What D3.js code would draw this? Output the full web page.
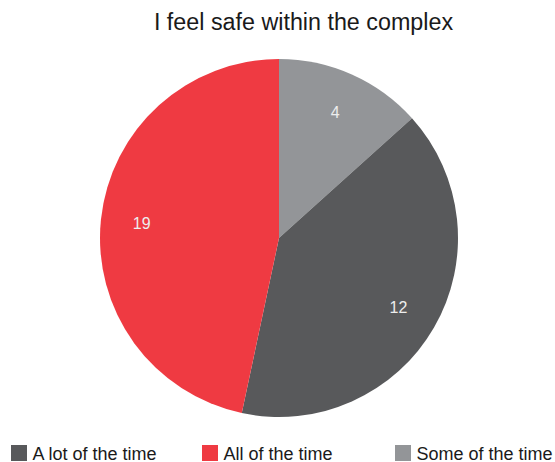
<!DOCTYPE html>
<head>
  <meta charset="utf-8">
  <script src="https://d3js.org/d3.v7.min.js"></script>
  <style>
    body { margin: 0; background: #fff; }
    text { font-family: "Liberation Sans", Arial, sans-serif; }
  </style>
</head>
<body>
  <script>
  // legend order
  var categories = ["A lot of the time", "All of the time", "Some of the time"];
  // slice sizes as drawn in the picture (angles 144 / 168 / 48 deg)
  var sliceValues = [12, 14, 4];
  // numbers printed on the slices
  var labelValues = [12, 19, 4];
  var colors = ["#58595b", "#ef3a42", "#939598"];
  // clockwise drawing order from 12 o'clock
  var drawOrder = [2, 0, 1];

  var width = 555, height = 462;
  var cx = 279, cy = 238, radius = 179;

  var svg = d3.select("body").append("svg")
      .attr("width", width)
      .attr("height", height);

  svg.append("text")
      .attr("x", 303.5)
      .attr("y", 30)
      .attr("text-anchor", "middle")
      .attr("fill", "#1a1a1a")
      .style("font-size", "23.3px")
      .text("I feel safe within the complex");

  var data = drawOrder.map(function(i) {
    return {name: categories[i], value: sliceValues[i], label: labelValues[i], color: colors[i]};
  });

  var pie = d3.pie()
      .sort(null)
      .value(function(d) { return d.value; });

  var arc = d3.arc()
      .innerRadius(0)
      .outerRadius(radius);

  var labelArc = d3.arc()
      .innerRadius(138)
      .outerRadius(138);

  var g = svg.append("g")
      .attr("transform", "translate(" + cx + "," + cy + ")");

  var slices = g.selectAll("g.slice")
      .data(pie(data))
      .enter().append("g")
      .attr("class", "slice");

  slices.append("path")
      .attr("d", arc)
      .attr("fill", function(d) { return d.data.color; });

  slices.append("text")
      .attr("transform", function(d) { return "translate(" + labelArc.centroid(d) + ")"; })
      .attr("text-anchor", "middle")
      .attr("dy", "0.35em")
      .attr("fill", "#ededed")
      .style("font-size", "16px")
      .text(function(d) { return d.data.label; });

  // legend
  var legendX = d3.scaleOrdinal()
      .domain(categories)
      .range([11, 202, 395]);

  var legend = svg.selectAll("g.legend")
      .data(categories)
      .enter().append("g")
      .attr("class", "legend")
      .attr("transform", function(d) { return "translate(" + legendX(d) + ",445)"; });

  legend.append("rect")
      .attr("width", 16)
      .attr("height", 16)
      .attr("fill", function(d, i) { return colors[i]; });

  legend.append("text")
      .attr("x", 21.5)
      .attr("y", 14.5)
      .attr("fill", "#1a1a1a")
      .style("font-size", "18px")
      .text(function(d) { return d; });
  </script>
</body>
